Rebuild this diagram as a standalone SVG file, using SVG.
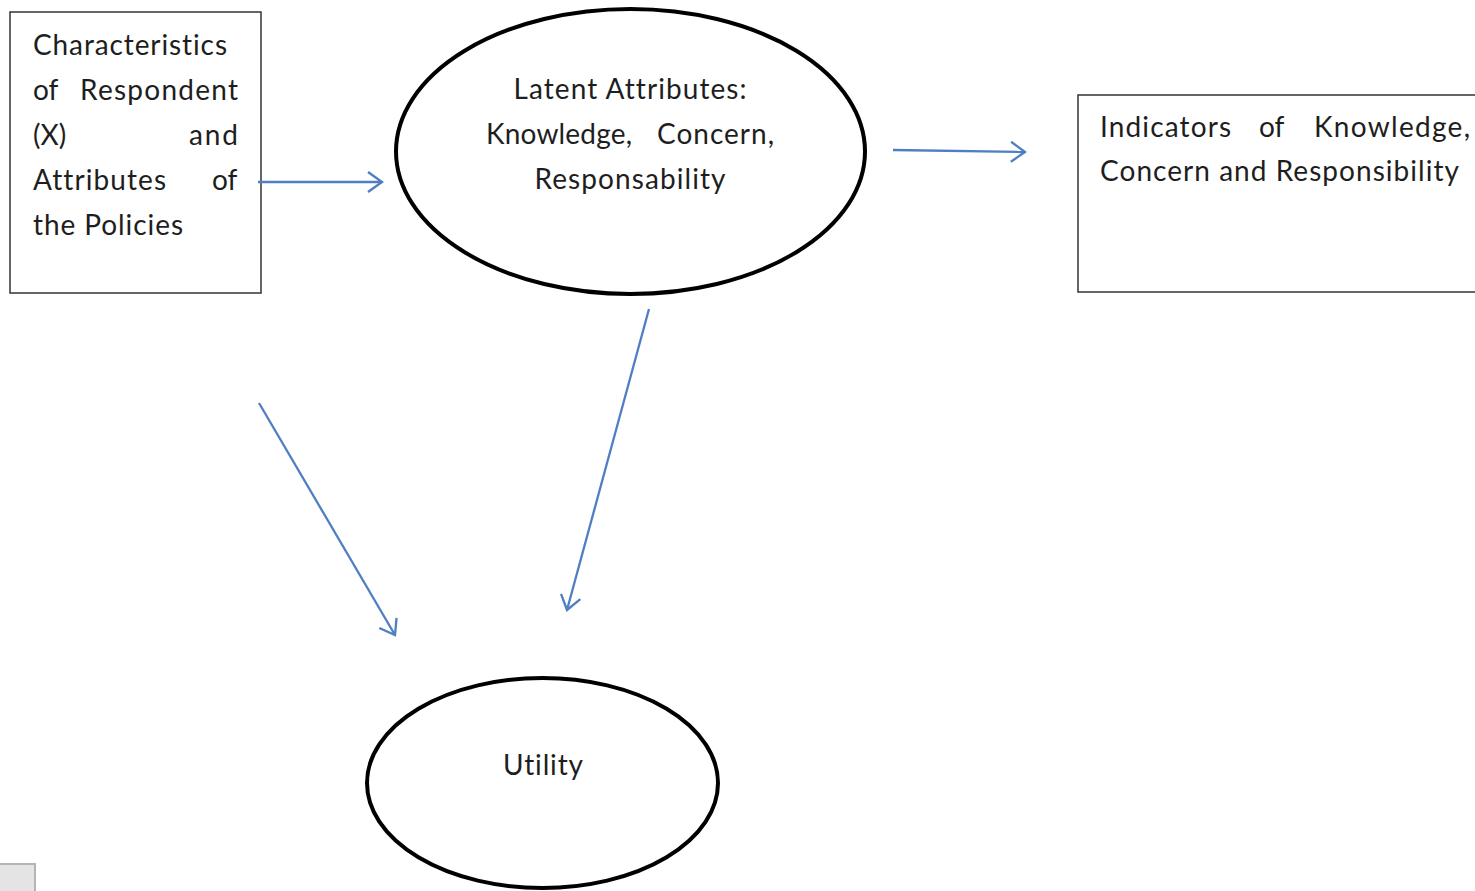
<svg xmlns="http://www.w3.org/2000/svg" width="1475" height="891" viewBox="0 0 1475 891">
<style>
.t{font-family:"Lato","Open Sans","Liberation Sans",sans-serif;font-size:28px;fill:#1e1e1e;font-variant-ligatures:none;font-feature-settings:"liga" 0}
.box{fill:#fff;stroke:#333;stroke-width:1.5}
.ell{fill:#fff;stroke:#000;stroke-width:4}
.con{fill:none;stroke:#4f7ec2;stroke-width:2.3}
</style>
<defs>
<marker id="arr" markerUnits="userSpaceOnUse" viewBox="0 0 18 24" refX="16" refY="12" markerWidth="18" markerHeight="24" orient="auto">
<path d="M2,2 L16,12 L2,22" fill="none" stroke="#4f7ec2" stroke-width="2.3"/>
</marker>
</defs>
<rect width="1475" height="891" fill="#fff"/>
<g id="node-characteristics">
<rect class="box" x="10" y="12" width="251" height="281"/>
<text class="t" x="33" y="55" textLength="194">Characteristics</text>
<text class="t" x="33" y="100">of</text>
<text class="t" x="80" y="100" textLength="158">Respondent</text>
<text class="t" x="33" y="145">(X)</text>
<text class="t" x="189" y="145" textLength="49">and</text>
<text class="t" x="33" y="190" textLength="133">Attributes</text>
<text class="t" x="212" y="190">of</text>
<text class="t" x="33" y="235" textLength="150">the Policies</text>
</g>
<g id="node-latent">
<ellipse class="ell" cx="630.5" cy="151.5" rx="234.5" ry="142.5"/>
<text class="t" x="630" y="99" text-anchor="middle" textLength="233">Latent Attributes:</text>
<text class="t" x="486" y="144" textLength="146">Knowledge,</text>
<text class="t" x="657" y="144" textLength="117">Concern,</text>
<text class="t" x="630" y="189" text-anchor="middle" textLength="191">Responsability</text>
</g>
<g id="node-indicators">
<rect class="box" x="1078" y="95" width="400" height="197"/>
<text class="t" x="1100" y="137" textLength="131">Indicators</text>
<text class="t" x="1259" y="137">of</text>
<text class="t" x="1314" y="137" textLength="156">Knowledge,</text>
<text class="t" x="1100" y="181" textLength="359">Concern and Responsibility</text>
</g>
<g id="node-utility">
<ellipse class="ell" cx="542.5" cy="783" rx="175.5" ry="105"/>
<text class="t" x="543" y="775" text-anchor="middle" textLength="80">Utility</text>
</g>
<g id="connectors">
<line class="con" x1="258" y1="182" x2="382" y2="182" marker-end="url(#arr)"/>
<line class="con" x1="893" y1="150" x2="1025" y2="152" marker-end="url(#arr)"/>
<line class="con" x1="649" y1="309" x2="567" y2="610" marker-end="url(#arr)"/>
<line class="con" x1="259" y1="403" x2="395" y2="635" marker-end="url(#arr)"/>
</g>
<rect x="-2" y="864" width="37" height="30" fill="#e4e4e4" stroke="#b4b4b4" stroke-width="2"/>
</svg>
